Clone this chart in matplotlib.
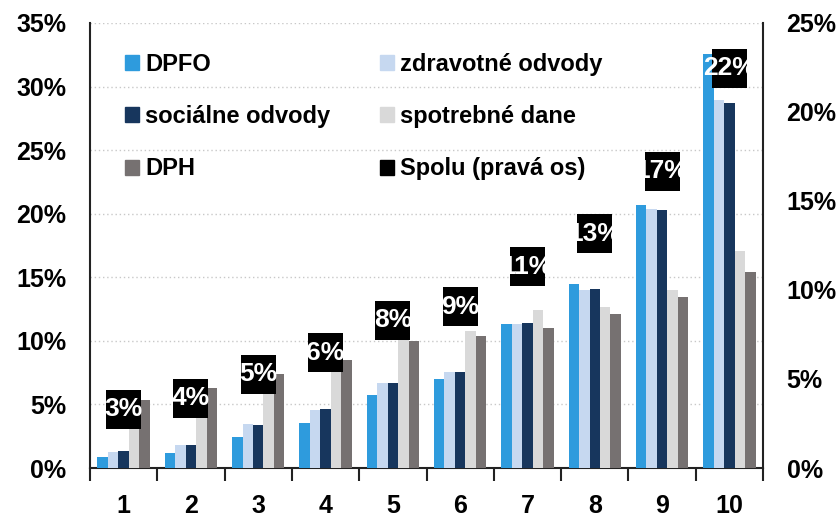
import numpy as np
import matplotlib
matplotlib.use("Agg")
import matplotlib.pyplot as plt
from matplotlib.patches import Patch, Rectangle

plt.rcParams['font.family'] = ['Liberation Sans', 'DejaVu Sans']
plt.rcParams['font.weight'] = 'bold'

# data (% values)
decily = ['1', '2', '3', '4', '5', '6', '7', '8', '9', '10']
dpfo = [0.84, 1.21, 2.47, 3.57, 5.74, 7.0, 11.3, 14.48, 20.68, 32.6]
zdravotne = [1.26, 1.78, 3.43, 4.56, 6.66, 7.53, 11.3, 14.0, 20.38, 28.95]
socialne = [1.31, 1.81, 3.38, 4.64, 6.71, 7.55, 11.38, 14.08, 20.3, 28.69]
spotrebne = [3.8, 4.8, 6.5, 8.0, 10.3, 10.8, 12.43, 12.67, 14.03, 17.1]
dph = [5.35, 6.27, 7.37, 8.5, 9.99, 10.39, 11.04, 12.09, 13.43, 15.42]
spolu = [3.29, 3.93, 5.28, 6.47, 8.31, 9.06, 11.31, 13.16, 16.66, 22.45]

series = [
    ('DPFO', dpfo, '#2e9bdd'),
    ('zdravotné odvody', zdravotne, '#c6d8f0'),
    ('sociálne odvody', socialne, '#17365d'),
    ('spotrebné dane', spotrebne, '#d9d9d9'),
    ('DPH', dph, '#767171'),
]

fig = plt.figure(figsize=(8.4, 5.18), dpi=100)
ax = fig.add_axes([90/840, 50/518, 673/840, 445/518])
ax2 = ax.twinx()

x = np.arange(len(decily))
w = 0.156
handles = {}
for i, (name, vals, col) in enumerate(series):
    ax.bar(x + (i - 2) * w, vals, width=w, color=col, zorder=3)
    handles[name] = Patch(color=col)

# totals on the right axis as black boxes
box_w = 0.52
box_h = 2.19
ax2.bar(x, box_h, bottom=np.array(spolu) - box_h/2, width=box_w, color='black', zorder=3)
for xi, v in zip(x, spolu):
    t = ax2.text(xi, v, f'{round(v)}%', ha='center', va='center', color='white',
                 fontsize=19, fontweight='bold', zorder=4)
    clip = Rectangle((xi - 2, v - box_h/2), 2 + box_w/2, box_h, transform=ax2.transData)
    t.set_clip_path(clip)
handles['Spolu (pravá os)'] = Patch(color='black')

ax.set_xlim(-0.5, 9.5)
ax.set_ylim(0, 35)
ax2.set_ylim(0, 25)

ax.set_yticks(np.arange(0, 36, 5))
ax.set_yticklabels([f'{t}%' for t in range(0, 36, 5)])
ax2.set_yticks(np.arange(0, 26, 5))
ax2.set_yticklabels([f'{t}%' for t in range(0, 26, 5)])
ax.set_xticks(x)
ax.set_xticklabels(decily)
ax.set_xticks(np.arange(-0.5, 10, 1), minor=True)

ax.tick_params(axis='x', which='major', length=0, pad=19, labelsize=18)
ax.tick_params(axis='x', which='minor', length=9, width=1.5, color='#222222')
ax.tick_params(axis='y', length=0, pad=17, labelsize=18)
ax2.tick_params(axis='y', length=0, pad=17, labelsize=18)

ax.yaxis.grid(True, color='#c8c8c8', linestyle=(0, (1, 2)), linewidth=1, zorder=0)
ax.set_axisbelow(True)

for s in ['top', 'right']:
    ax.spines[s].set_visible(False)
for s in ['top', 'left', 'bottom']:
    ax2.spines[s].set_visible(False)
for sp in [ax.spines['left'], ax.spines['bottom'], ax2.spines['right']]:
    sp.set_linewidth(1.5)
    sp.set_color('#222222')

order = ['DPFO', 'sociálne odvody', 'DPH', 'zdravotné odvody', 'spotrebné dane', 'Spolu (pravá os)']
ax2.legend([handles[n] for n in order], order, ncol=2, loc='upper left',
           bbox_to_anchor=(0.052, 0.933), frameon=False, fontsize=17,
           handlelength=0.6, handleheight=0.6, handletextpad=0.25,
           labelspacing=1.24, columnspacing=2.1, borderpad=0, borderaxespad=0)

fig.savefig('out.png', dpi=100)
